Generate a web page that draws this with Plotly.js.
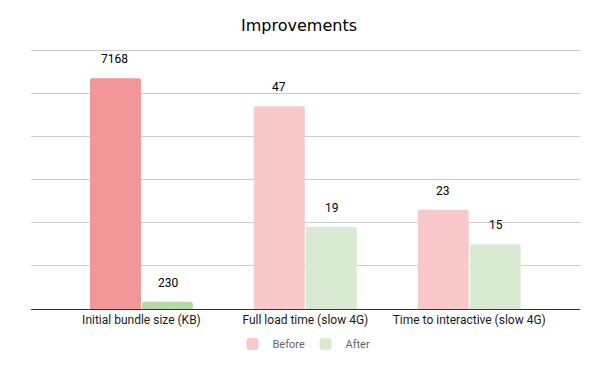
<!DOCTYPE html>
<html>
<head>
<meta charset="utf-8">
<script src="https://cdn.plot.ly/plotly-3.0.1.min.js"></script>
<style>html,body{margin:0;padding:0;background:#fff;}#chart{width:598px;height:369px;}</style>
</head>
<body>
<div id="chart"></div>
<script>
// Data
const categories = ["Initial bundle size (KB)", "Full load time (slow 4G)", "Time to interactive (slow 4G)"];
// Bar heights as drawn (the first group is drawn on a different scale than its label)
const beforeHeights = [53.5, 47, 23];
const afterHeights = [1.7, 19, 15];
// Value labels shown above bars
const beforeLabels = ["7168", "47", "23"];
const afterLabels = ["230", "19", "15"];
const seriesNames = ["Before", "After"];

const colBeforeDark = "#f29698", colBeforeLight = "#f9c9ca";
const colAfterDark = "#b6d7a8", colAfterLight = "#d9ead3";

const traces = [
  {type: "bar", name: seriesNames[0], x: categories.slice(1), y: beforeHeights.slice(1),
   offsetgroup: "b", marker: {color: colBeforeLight, cornerradius: 2}, hoverinfo: "skip"},
  {type: "bar", name: seriesNames[0], x: categories.slice(0, 1), y: beforeHeights.slice(0, 1),
   offsetgroup: "b", showlegend: false, marker: {color: colBeforeDark, cornerradius: 2}, hoverinfo: "skip"},
  {type: "bar", name: seriesNames[1], x: categories.slice(1), y: afterHeights.slice(1),
   offsetgroup: "a", marker: {color: colAfterLight, cornerradius: 2}, hoverinfo: "skip"},
  {type: "bar", name: seriesNames[1], x: categories.slice(0, 1), y: afterHeights.slice(0, 1),
   offsetgroup: "a", showlegend: false, marker: {color: colAfterDark, cornerradius: 2}, hoverinfo: "skip"}
];

const annotations = [];
categories.forEach((c, i) => {
  annotations.push({x: c, y: beforeHeights[i], text: beforeLabels[i], showarrow: false,
    xref: "x", yref: "y", xshift: -26.5, yshift: 19, yanchor: "middle",
    font: {family: "Roboto, sans-serif", size: 12, color: "#000"}});
  annotations.push({x: c, y: afterHeights[i], text: afterLabels[i], showarrow: false,
    xref: "x", yref: "y", xshift: 26.5, yshift: 19, yanchor: "middle",
    font: {family: "Roboto, sans-serif", size: 12, color: "#000"}});
});

const layout = {
  width: 598, height: 369,
  margin: {l: 31, r: 18, t: 48, b: 60},
  paper_bgcolor: "#fff", plot_bgcolor: "#fff",
  title: {text: "Improvements", x: 0.5, xanchor: "center", y: 1 - 25/369, yanchor: "middle",
          font: {family: "DejaVu Sans, sans-serif", size: 16, color: "#000"}},
  barmode: "group",
  bargap: 0.366, bargroupgap: 0.02,
  xaxis: {type: "category", categoryorder: "array", categoryarray: categories,
          range: [-0.674, 2.676], showgrid: false, zeroline: false,
          showline: true, linecolor: "#333", linewidth: 1, ticks: "",
          tickfont: {family: "Roboto, sans-serif", size: 12, color: "#1a1a1a"}, fixedrange: true},
  yaxis: {range: [0, 60.5], tick0: 0, dtick: 10, showticklabels: false, showgrid: true, gridcolor: "#cccccc",
          gridwidth: 1, zeroline: false, ticks: "", fixedrange: true},
  showlegend: true,
  legend: {orientation: "h", x: 0.5, xanchor: "center", yref: "container", y: 25/369, yanchor: "middle",
           itemgap: 0, entrywidth: 28, entrywidthmode: "pixels",
           font: {family: "Roboto, sans-serif", size: 11, color: "#666"}},
  annotations: annotations
};

Plotly.newPlot("chart", traces, layout, {displayModeBar: false, staticPlot: true});
</script>
</body>
</html>
